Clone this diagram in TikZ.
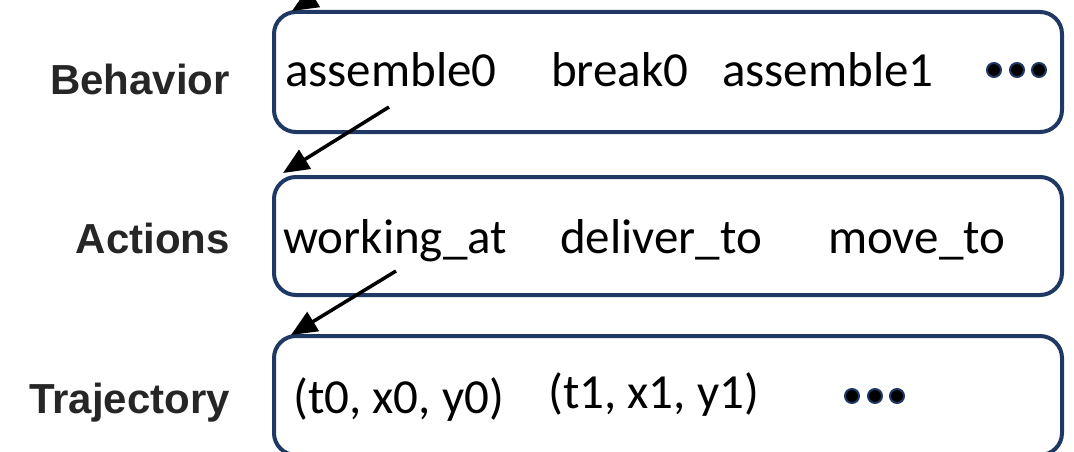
\documentclass[tikz,border=0pt]{standalone}
\usepackage{fontspec}
\setmainfont{Carlito}
\newfontfamily\labelfont{Liberation Sans}
\usetikzlibrary{arrows.meta}
\definecolor{navy}{HTML}{1F3864}
\definecolor{labelgray}{HTML}{262626}
\tikzset{
  x=1pt, y=1pt,
  layerbox/.style={draw=navy, line width=4pt, rounded corners=22pt, minimum width=788pt, inner sep=0pt},
  item/.style={anchor=base west, inner sep=0pt, font=\fontsize{49}{57}\selectfont},
  rowlabel/.style={anchor=base east, inner sep=0pt, text=labelgray, font=\labelfont\bfseries\fontsize{42}{50}\selectfont},
  link/.style={line width=3.5pt, -{Triangle[length=26pt,width=22pt]}},
  dot/.style={circle, fill=black, draw=navy, line width=2pt, minimum size=14pt, inner sep=0pt},
}
\begin{document}
\begin{tikzpicture}
\useasboundingbox (0,0) rectangle (1074,-452);

% layer boxes
\node[layerbox, minimum height=120pt] (behavior) at (668,-72) {};
\node[layerbox, minimum height=118pt] (actions) at (668,-236) {};
\node[layerbox, minimum height=119pt] (trajectory) at (668,-395.5) {};

% row labels
\node[rowlabel] (lbeh) at (230,-95) {Behavior};
\node[rowlabel] (lact) at (230,-253) {Actions};
\node[rowlabel] (ltraj) at (230,-413) {Trajectory};

% behavior items
\node[item] (asm0) at (285,-87) {assemble0};
\node[item] (brk0) at (551,-87) {break0};
\node[item] (asm1) at (722,-87) {assemble1};
\node[dot] (bd1) at (994,-70) {};
\node[dot] (bd2) at (1017,-70) {};
\node[dot] (bd3) at (1039,-70) {};

% action items
\node[item] (work) at (283,-253) {working\_at};
\node[item] (deliv) at (560,-253) {deliver\_to};
\node[item] (move) at (828,-253) {move\_to};

% trajectory items
\node[item] (p0) at (293,-413) {(t0, x0, y0)};
\node[item] (p1) at (548,-408) {(t1, x1, y1)};
\node[dot] (td1) at (852,-396) {};
\node[dot] (td2) at (875,-396) {};
\node[dot] (td3) at (897,-396) {};

% links between layers
\coordinate (upstart) at (398,54);
\coordinate (uptip) at (292,-11);
\coordinate (bstart) at (389,-107);
\coordinate (btip) at (283,-173);
\coordinate (astart) at (396,-271);
\coordinate (atip) at (291,-335);
\draw[link] (upstart) -- (uptip);
\draw[link] (bstart) -- (btip);
\draw[link] (astart) -- (atip);
\end{tikzpicture}
\end{document}
